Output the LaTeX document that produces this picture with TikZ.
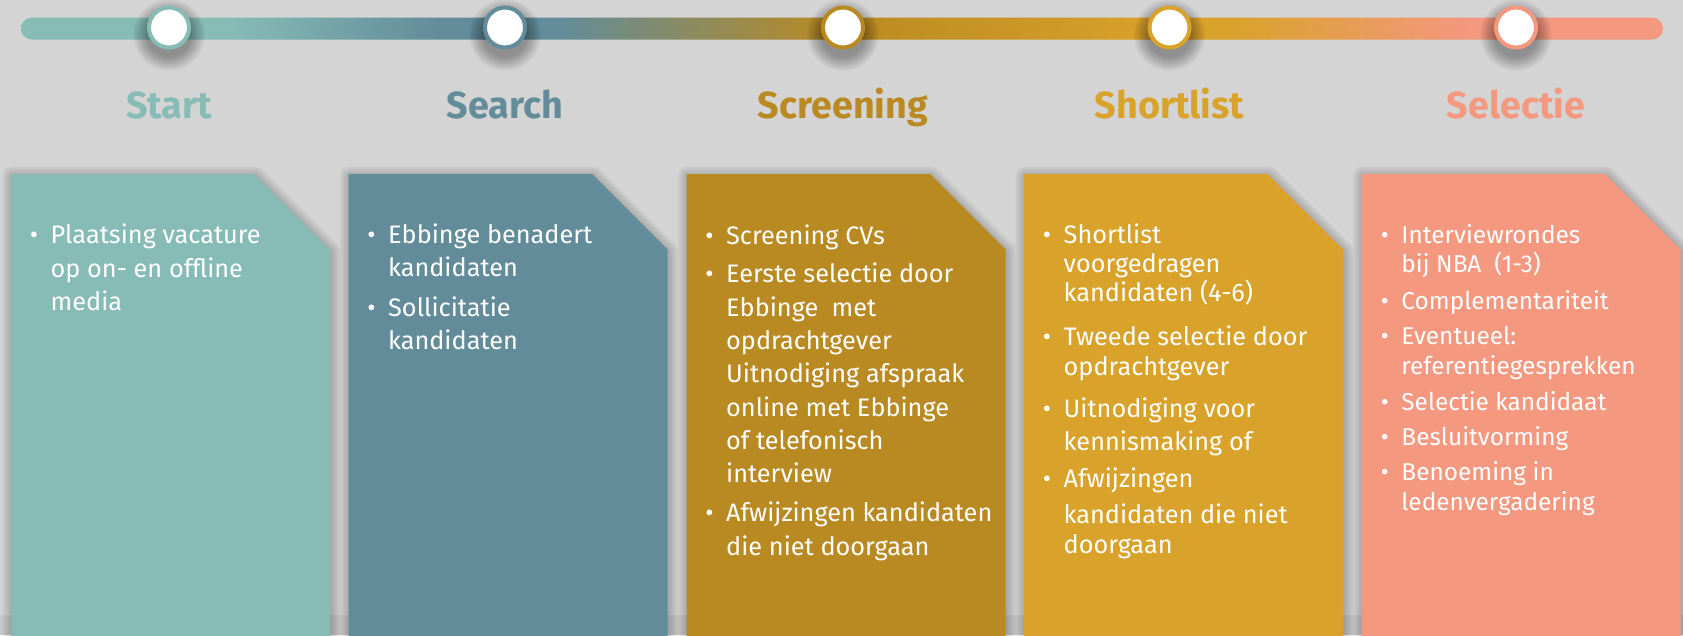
\documentclass[tikz,border=0pt]{standalone}
\usepackage{fontspec}
\setmainfont{Fira Sans}
\usetikzlibrary{calc}
\definecolor{bgc}{HTML}{D4D4D4}
\definecolor{bandc}{HTML}{C7C7C7}
\definecolor{cA}{HTML}{86BBB6}
\definecolor{cB}{HTML}{628C99}
\definecolor{cC}{HTML}{B98A22}
\definecolor{cD}{HTML}{D9A22A}
\definecolor{cE}{HTML}{F49880}
\pgfdeclarehorizontalshading{barshade}{100bp}{color(0bp)=(cA); color(31.36bp)=(cA); color(37.76bp)=(cB); color(41.41bp)=(cB); color(49.79bp)=(cC); color(59.99bp)=(cD); color(61.82bp)=(cD); color(69.12bp)=(cE); color(100bp)=(cE)}
\newcommand\cardpath[1]{(#1,174) -- (#1+243.5,174) -- (#1+319,249.5) -- (#1+319,650) -- (#1,650) -- cycle}
\newcommand\cardtext[4]{%
  \foreach \yy/\bb/\txt [count=\i] in {#4}{%
    \node[ctxt,font=\fontsize{#3}{#3}\selectfont] (#1l\i) at (#2+39.5,\yy) {\txt};
    \ifnum\bb=1 \node[cbul,font=\fontsize{#3}{#3}\selectfont] (#1b\i) at (#2+23,\yy) {\textbullet};\fi
  }}
\begin{document}
\begin{tikzpicture}[x=1pt,y=-1pt,
  ctxt/.style={anchor=base west,inner sep=0pt,text=white},
  cbul/.style={anchor=base,inner sep=0pt,text=white},
  ttl/.style={anchor=base,inner sep=0pt,font=\fontsize{37.7}{40}\selectfont\bfseries},
  dot/.style={circle,draw,line width=4pt,fill=white,minimum size=40pt,inner sep=0pt},
  shd/.style={black,opacity=0.018,line join=round}]
\useasboundingbox (0,0) rectangle (1683,635);
\fill[bgc] (0,0) rectangle (1683,635);
\fill[bandc] (0,615) rectangle (1683,635);
% card shadows
\begin{scope}[shift={(1,2)}]
\foreach \L in {11,348.5,686.5,1024,1361.7}{
  \foreach \w in {2,4,...,20}{
    \draw[shd,line width=\w pt] \cardpath{\L};
  }
}
\end{scope}
% cards
\fill[cA] \cardpath{11};
\fill[cB] \cardpath{348.5};
\fill[cC] \cardpath{686.5};
\fill[cD] \cardpath{1024};
\fill[cE] \cardpath{1361.7};
% card texts
\cardtext{ca}{11}{25.3}{243.5/1/Plaatsing vacature, 277/0/op on- en offline, 310.5/0/media}
\cardtext{cb}{348.5}{25.3}{243.5/1/Ebbinge benadert, 276.5/0/kandidaten, 316/1/Sollicitatie, 349/0/kandidaten}
\cardtext{cc}{686.5}{25.3}{244/1/Screening CVs, 282.7/1/Eerste selectie door, 316/0/Ebbinge~~met, 349/0/opdrachtgever, 382.5/0/Uitnodiging afspraak, 416/0/online met Ebbinge, 449/0/of telefonisch, 482.5/0/interview, 521.5/1/Afwijzingen kandidaten, 555/0/die niet doorgaan}
\cardtext{cd}{1024}{25.3}{243.3/1/Shortlist, 272.7/0/voorgedragen, 301.7/0/kandidaten (4-6), 345.7/1/Tweede selectie door, 375.7/0/opdrachtgever, 417.3/1/Uitnodiging voor, 450/0/kennismaking of, 487.3/1/Afwijzingen, 523.3/0/kandidaten die niet, 553.3/0/doorgaan}
\cardtext{ce}{1361.7}{24.4}{243.3/1/Interviewrondes, 272.7/0/bij NBA~~(1-3), 309/1/Complementariteit, 344/1/Eventueel:, 374/0/referentiegesprekken, 410.7/1/Selectie kandidaat, 445/1/Besluitvorming, 480.7/1/Benoeming in, 510/0/ledenvergadering}
% timeline bar
\shade[shading=barshade,rounded corners=11pt] (21,17.5) rectangle (1663,39.5);
% circle shadows
\foreach \cx in {169,505,843,1169.5,1516}{
  \foreach \r in {22,...,36}{\fill[black,opacity=0.022] (\cx,35) circle (\r);}
}
% circles
\node[dot,draw=cA] (n1) at (169,27.5) {};
\node[dot,draw=cB] (n2) at (505,27.5) {};
\node[dot,draw=cC] (n3) at (843,27.5) {};
\node[dot,draw=cD] (n4) at (1169.5,27.5) {};
\node[dot,draw=cE] (n5) at (1516,27.5) {};
% titles
\node[ttl,text=cA] (t1) at (169,118) {Start};
\node[ttl,text=cB] (t2) at (505,118) {Search};
\node[ttl,text=cC] (t3) at (843,118) {Screening};
\node[ttl,text=cD] (t4) at (1169.5,118) {Shortlist};
\node[ttl,text=cE] (t5) at (1516,118) {Selectie};
\end{tikzpicture}
\end{document}
